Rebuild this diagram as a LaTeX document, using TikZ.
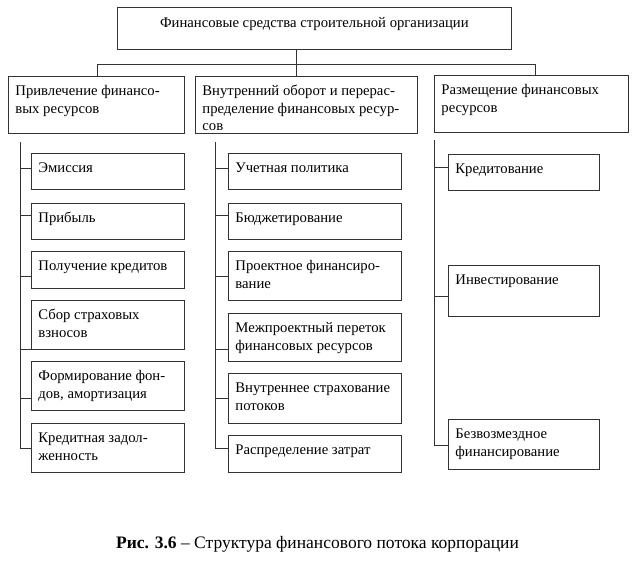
\documentclass[tikz,border=0pt]{standalone}
\usepackage{fontspec}
\setmainfont{Liberation Serif}
\usetikzlibrary{positioning,calc}

% box with text at its top left: name, x, y, width, height, text
\newcommand{\blk}[6]{%
	\node[blk] (#1) at (#2,#3) {\parbox[t][#5pt][t]{\dimexpr#4pt-14pt\relax}{\raggedright\rule{0pt}{19.5pt}#6}};}

\begin{document}
\begin{tikzpicture}[x=1pt,y=-1pt,
	blk/.style={draw=black!80,line width=0.8pt,anchor=north west,inner xsep=7pt,inner ysep=0pt,font=\fontsize{14.7pt}{17.5pt}\selectfont},
	wire/.style={draw=black!80,line width=0.8pt}]
	\useasboundingbox (0,0) rectangle (642,562);

	\node[blk] (top) at (117,7) {\parbox[t][42pt][t]{380pt}{\centering\rule{0pt}{20pt}Финансовые средства строительной организации}};

	\blk{b1}{8}{76}{176}{57}{Привлечение финансо-\\вых ресурсов}
	\blk{b2}{195}{76}{222}{57}{Внутренний оборот и перерас-\\пределение финансовых ресур-\\сов}
	\blk{b3}{434}{75}{194}{57}{Размещение финансовых\\ресурсов}

	% attraction
	\blk{e1}{31}{153}{153}{36}{Эмиссия}
	\blk{e2}{31}{203}{153}{36}{Прибыль}
	\blk{e3}{31}{251}{153}{37}{Получение кредитов}
	\blk{e4}{31}{300}{153}{49}{Сбор страховых\\взносов}
	\blk{e5}{31}{361}{153}{49}{Формирование фон-\\дов, амортизация}
	\blk{e6}{31}{423}{153}{49}{Кредитная задол-\\женность}

	% internal turnover
	\blk{m1}{228}{153}{173}{36}{Учетная политика}
	\blk{m2}{228}{203}{173}{36}{Бюджетирование}
	\blk{m3}{228}{251}{173}{49}{Проектное финансиро-\\вание}
	\blk{m4}{228}{313}{173}{48}{Межпроектный переток\\финансовых ресурсов}
	\blk{m5}{228}{373}{173}{50}{Внутреннее страхование\\потоков}
	\blk{m6}{228}{435}{173}{37}{Распределение затрат}

	% placement
	\blk{r1}{448}{154}{151}{36}{Кредитование}
	\blk{r2}{448}{265}{151}{51}{Инвестирование}
	\blk{r3}{448}{419}{151}{50}{Безвозмездное\\финансирование}

	% upper bus
	\coordinate (hubL) at (97,64);
	\coordinate (hubC) at (296,64);
	\coordinate (hubR) at (535,64);
	\draw[wire] (top.south -| hubC) -- (b2.north -| hubC);
	\draw[wire] (b1.north -| hubL) -- (hubL) -- (hubR) -- (b3.north -| hubR);

	% trunks
	\coordinate (trunkA) at (20,142);
	\coordinate (trunkB) at (215,142);
	\coordinate (trunkC) at (434,140);
	\draw[wire] (trunkA) -- (trunkA |- 0,448);
	\draw[wire] (trunkB) -- (trunkB |- 0,448);
	\draw[wire] (trunkC) -- (trunkC |- 0,445);
	\foreach \n/\s in {e1/168,e2/215,e3/276,e4/349,e5/398,e6/448}
		\draw[wire] (trunkA |- 0,\s) -- (\n.west |- 0,\s);
	\foreach \n/\s in {m1/168,m2/215,m3/276,m4/349,m5/398,m6/448}
		\draw[wire] (trunkB |- 0,\s) -- (\n.west |- 0,\s);
	\foreach \n/\s in {r1/167,r2/296,r3/445}
		\draw[wire] (trunkC |- 0,\s) -- (\n.west |- 0,\s);

	\node[anchor=base,font=\fontsize{17.5pt}{21pt}\selectfont] (cap) at (317.5,548) {\textbf{Рис. 3.6} – Структура финансового потока корпорации};
\end{tikzpicture}
\end{document}
